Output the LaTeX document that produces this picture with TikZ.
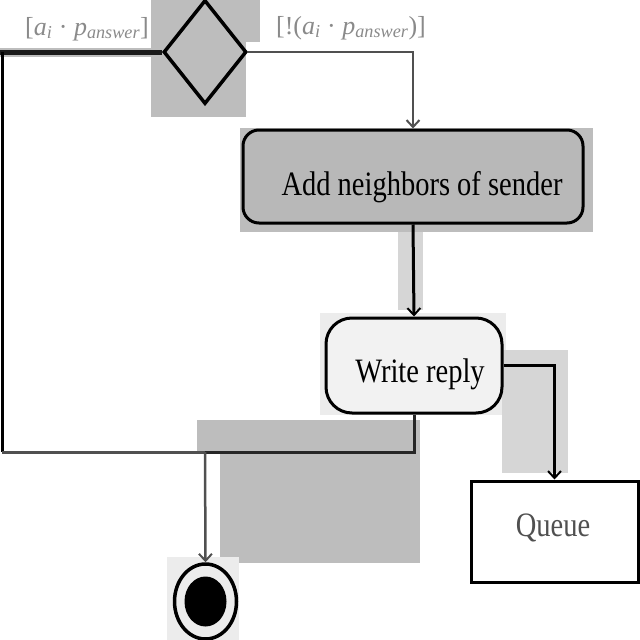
\documentclass[tikz,border=0pt]{standalone}
\usepackage{fontspec}
\setmainfont{Liberation Serif}
\usetikzlibrary{shapes.geometric,arrows.meta}
\definecolor{bgA}{HTML}{BDBDBD}
\definecolor{bgB}{HTML}{D6D6D6}
\definecolor{bgC}{HTML}{ECECEC}
\definecolor{boxA}{HTML}{B8B8B8}
\definecolor{boxB}{HTML}{F2F2F2}
\definecolor{lblgray}{HTML}{8A8A8A}
\definecolor{lineg}{HTML}{505050}
\newcommand{\placetext}[3]{\raisebox{#2}[0pt][0pt]{\makebox[0pt]{\hspace*{#1}\scalebox{1}[1.2]{#3}}}}
\tikzset{
  barb/.style={-{Straight Barb[length=7pt,width=13pt,line width=2pt]}},
  actbox/.style={draw=black,line width=3pt,rectangle,inner sep=0pt,font=\fontsize{28.5}{30}\selectfont},
  guard/.style={text=lblgray,font=\fontsize{26}{28}\selectfont,inner sep=0pt},
}
\begin{document}
\begin{tikzpicture}[x=1pt,y=-1pt]
\useasboundingbox (0,0) rectangle (640,640);
% background shading blocks
\fill[bgA] (151,0) rectangle (246,117);
\fill[bgA] (246,0) rectangle (260,42);
\fill[bgA] (240,128) rectangle (593,232);
\fill[bgB] (398,232) rectangle (423,310);
\fill[bgC] (320,313) rectangle (506,415);
\fill[bgB] (502,350) rectangle (568,473);
\fill[bgA] (197,420) rectangle (420,453);
\fill[bgA] (220,453) rectangle (420,563);
\fill[bgC] (167,557) rectangle (239,640);
% nodes
\node[diamond,draw=black,line width=3.5pt,fill=bgA,inner sep=0pt,
      minimum width=83pt,minimum height=104pt] (d) at (205,52) {};
\node[guard] (gl) at (87,29) {[\textit{a}\textsubscript{\textit{i}} · \textit{p}\textsubscript{\textit{answer}}]};
\node[guard] (gr) at (351,28) {[!(\textit{a}\textsubscript{\textit{i}} · \textit{p}\textsubscript{\textit{answer}})]};
\node[actbox,rounded corners=16pt,fill=boxA,minimum width=340pt,minimum height=93pt] (an) at (413,176.5)
      {\placetext{18pt}{-18.5pt}{Add neighbors of sender}};
\node[actbox,rounded corners=26pt,fill=boxB,minimum width=176pt,minimum height=95pt] (wr) at (414,365.5)
      {\placetext{12pt}{-16.5pt}{Write reply}};
\node[actbox,fill=white,minimum width=167pt,minimum height=101pt,text=lineg] (q) at (554.5,531.5)
      {\placetext{-3pt}{-5pt}{Queue}};
\node[ellipse,draw=black,line width=3.5pt,fill=bgC,inner sep=0pt,
      minimum width=62pt,minimum height=75pt] (f) at (205.5,601.5) {};
\fill[black] (f.center) ellipse [x radius=21pt,y radius=25pt];
\coordinate (ml) at (2,52);
\coordinate (mb) at (2,452);
\coordinate (m) at (205,452);
% connectors
\draw[bgA,line width=9pt] (d.west) -- (0,52);
\draw[black!90,line width=5pt] (d.west) -- (0,52);
\draw[black,line width=3pt] (ml) -- (mb);
\draw[lineg,line width=3pt] (mb) -- (m);
\draw[black!85,line width=3pt] (wr.south) |- (m);
\draw[lineg,line width=2.5pt,barb] (m) -- (f.north);
\draw[lineg,line width=2pt,barb] (d.east) -| (an.north);
\draw[black,line width=3pt,barb] (an.south) -- (wr.north);
\draw[black,line width=3.5pt,barb] (wr.east) -| (q.north);
\end{tikzpicture}
\end{document}
